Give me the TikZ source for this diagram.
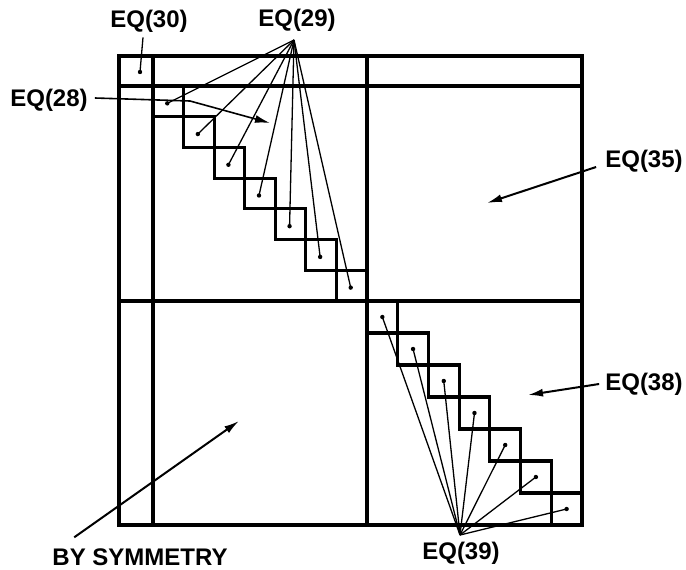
\documentclass[tikz,border=0pt]{standalone}
\usepackage{fontspec}
\setmainfont{Liberation Sans}
\usetikzlibrary{arrows.meta,calc}
\begin{document}
\begin{tikzpicture}[x=1pt,y=-1pt,
  heavy/.style={line width=3.2pt,line cap=rect},
  leader/.style={line width=1.3pt},
  pointer/.style={line width=2pt,-{Latex[length=15pt,width=8pt]}},
  lbl/.style={font=\fontsize{24}{24}\selectfont\bfseries,inner sep=0pt},
  dotfill/.style={fill=black}]
\useasboundingbox[fill=white] (0,0) rectangle (686,570);
% frame and partition lines
\draw[heavy] (119,56) rectangle (582,525);
\draw[heavy] (153,56) -- (153,525);
\draw[heavy] (367,56) -- (367,525);
\draw[heavy] (119,86) -- (582,86);
\draw[heavy] (119,301) -- (582,301);
% diagonal blocks
\foreach \k in {0,...,6} {
  \draw[heavy] ({153+30.57*\k},{86+30.71*\k}) rectangle ++(30.57,30.71);
  \coordinate (p\k) at ({153+30.57*(\k+0.5)-1},{86+30.71*(\k+0.5)+2});
  \draw[heavy] ({367+30.71*\k},{301+32*\k}) rectangle ++(30.71,32);
  \coordinate (q\k) at ({367+30.71*(\k+0.5)},{301+32*(\k+0.5)});
}
% labels
\node[lbl] (eq30) at (149,21) {EQ(30)};
\node[lbl] (eq29) at (297,20) {EQ(29)};
\node[lbl] (eq28) at (49,100) {EQ(28)};
\node[lbl] (eq35) at (644,161) {EQ(35)};
\node[lbl] (eq38) at (644,384) {EQ(38)};
\node[lbl] (eq39) at (461,553) {EQ(39)};
\node[lbl] (sym) at (140,557) {BY SYMMETRY};
% apexes and targets
\coordinate (a29) at (294,40);
\coordinate (a39) at (460,535);
\coordinate (c30) at (140,72);
\coordinate (k28) at (190,101);
\coordinate (t28) at (270,123);
\coordinate (t35) at (487,203);
\coordinate (t38) at (528,395);
\coordinate (tsym) at (239,421);
% fans
\foreach \k in {0,...,6} {
  \draw[leader] (a29) -- (p\k);
  \fill (p\k) circle (2.2);
  \draw[leader] (a39) -- (q\k);
  \fill (q\k) circle (2.2);
}
% single leaders
\draw[leader] ($(eq30.south)+(-6,5)$) -- (c30);
\fill (c30) circle (2.2);
\draw[pointer,line width=1.6pt] ($(eq28.east)+(7,-2)$) -- (k28) -- (t28);
\draw[pointer] ($(eq35.west)+(-9,6)$) -- (t35);
\draw[pointer] ($(eq38.west)+(-6,0)$) -- (t38);
\draw[pointer] ($(sym.north west)+(22,-11)$) -- (tsym);
\end{tikzpicture}
\end{document}
